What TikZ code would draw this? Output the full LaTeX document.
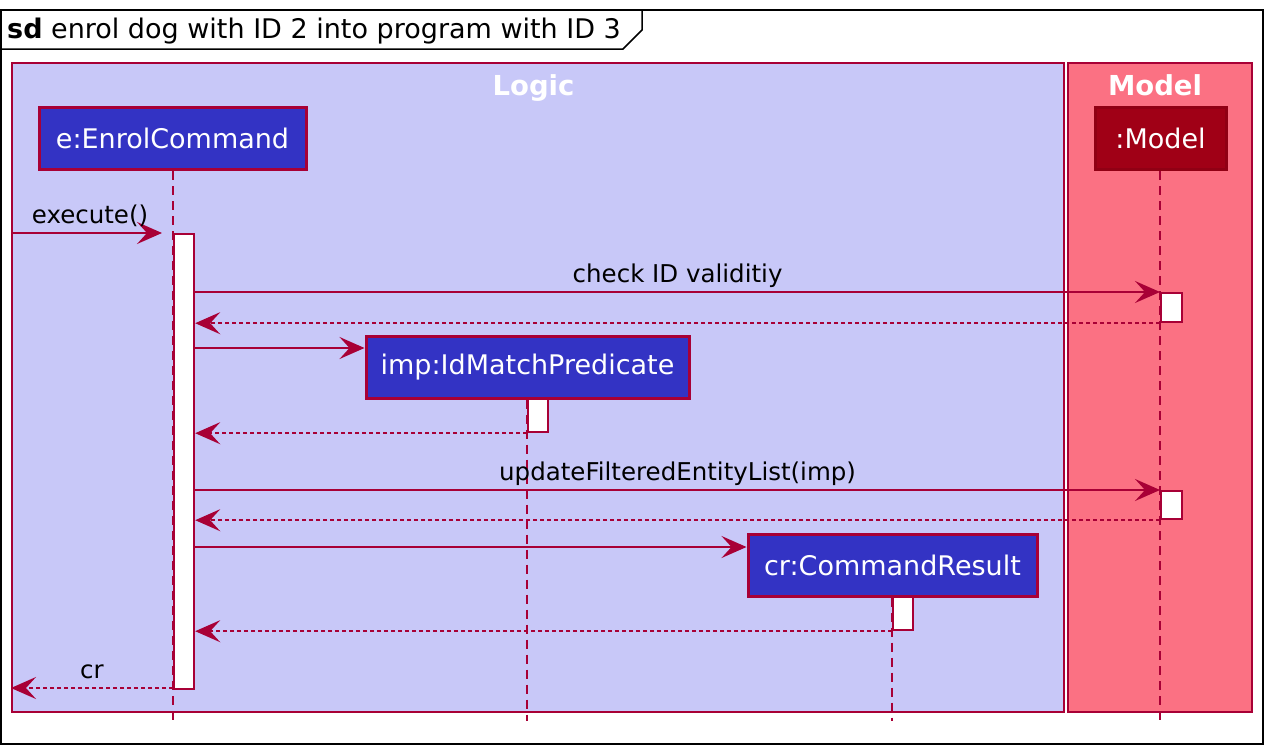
\documentclass[tikz,border=0pt]{standalone}
\usepackage{fontspec}
\setmainfont{DejaVu Sans}
\usetikzlibrary{arrows.meta}
\definecolor{crim}{RGB}{168,0,54}
\definecolor{logicfill}{RGB}{200,200,248}
\definecolor{modelfill}{RGB}{251,113,131}
\definecolor{partblue}{RGB}{51,51,196}
\definecolor{partred}{RGB}{160,0,22}
\tikzset{
  part/.style={draw=crim, line width=3pt, fill=partblue, text=white, inner sep=0pt,
    minimum height=62pt, font=\fontsize{27}{32}\selectfont},
  modelpart/.style={part, draw=partred!90!black, fill=partred},
  grp/.style={draw=crim, line width=1.5pt},
  grplabel/.style={text=white, anchor=base, inner sep=0pt, font=\fontsize{27.5}{32}\selectfont\bfseries},
  life/.style={draw=crim, line width=1.8pt, dash pattern=on 9pt off 6pt},
  act/.style={draw=crim, line width=2.2pt, fill=white, inner sep=0pt, minimum width=20pt},
  msg/.style={draw=crim, line width=1.8pt, -{Stealth[length=25pt, width=22pt, inset=10pt]}},
  ret/.style={msg, dash pattern=on 4pt off 3pt},
  lbl/.style={midway, anchor=base, yshift=10pt, inner sep=0pt, text=black, font=\fontsize{24.5}{29}\selectfont}
}
\begin{document}
\begin{tikzpicture}[x=1pt, y=-1pt]
\useasboundingbox (0,0) rectangle (1274,755);
% outer frame
\draw[black, line width=1.5pt] (1,10) rectangle (1263,744);
\draw[black, line width=1.5pt] (1,49) -- (623,49) -- (642,30) -- (642,10);
\node[anchor=base west, inner sep=0pt, font=\fontsize{27}{32}\selectfont] (title) at (7,38) {\textbf{sd} enrol dog with ID 2 into program with ID 3};
% groups
\draw[grp, fill=logicfill] (12,63) rectangle (1064,712);
\draw[grp, fill=modelfill] (1068,63) rectangle (1252,712);
\node[grplabel] (logiclbl) at (533.5,95) {Logic};
\node[grplabel] (modellbl) at (1155,95) {Model};
% participants
\node[part, minimum width=267pt] (e) at (172.5,138.5) {e:EnrolCommand};
\node[modelpart, minimum width=131pt] (m) at (1160.5,138.5) {:Model};
\node[part, minimum width=323pt] (imp) at (527.5,367) {imp:IdMatchPredicate};
\node[part, minimum width=289pt] (cr) at (892.5,565) {cr:CommandResult};
% lifeline ends
\coordinate (eend) at (173,721);
\coordinate (impend) at (527,721);
\coordinate (crend) at (892,721);
\coordinate (mend) at (1160,721);
\draw[life] (e.south -| eend) -- (eend);
\draw[life] (m.south -| mend) -- (mend);
\draw[life] (imp.south -| impend) -- (impend);
\draw[life] (cr.south -| crend) -- (crend);
% activations
\node[act, anchor=north west, minimum height=455pt] (ae) at (173,233) {};
\node[act, anchor=north west, minimum height=29pt, minimum width=21pt] (am1) at (1160,292) {};
\node[act, anchor=north west, minimum height=28pt, minimum width=21pt] (am2) at (1160,490) {};
\node[act, anchor=north west, minimum height=33pt] (aimp) at (527,398) {};
\node[act, anchor=north west, minimum height=33pt] (acr) at (892,596) {};
% message rows
\coordinate (start) at (11,233);
\coordinate (finish) at (11,688);
\coordinate (r3) at (0,348);
\coordinate (r7) at (0,547);
% messages
\draw[msg, shorten >=11pt] (start) -- (ae.north west) node[lbl, xshift=-2pt] {execute()};
\draw[msg] (ae.east |- am1.north) -- (am1.north west) node[lbl] {check ID validitiy};
\draw[ret] (am1.south west) -- (ae.east |- am1.south);
\draw[msg] (ae.east |- r3) -- (imp.west |- r3);
\draw[ret] (aimp.south west) -- (ae.east |- aimp.south);
\draw[msg] (ae.east |- am2.north) -- (am2.north west) node[lbl] {updateFilteredEntityList(imp)};
\draw[ret] (am2.south west) -- (ae.east |- am2.south);
\draw[msg] (ae.east |- r7) -- (cr.west |- r7);
\draw[ret] (acr.south west) -- (ae.east |- acr.south);
\draw[ret] (ae.south west |- finish) -- (finish) node[lbl] {cr};
\end{tikzpicture}
\end{document}
